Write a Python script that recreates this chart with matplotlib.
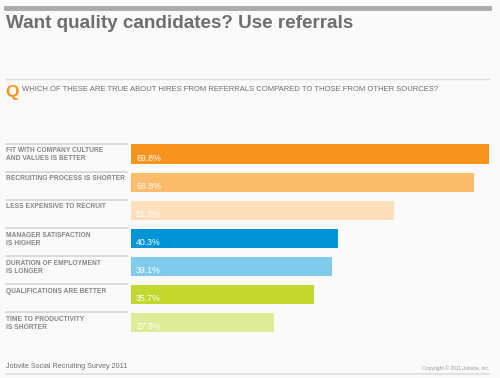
import matplotlib.pyplot as plt
from matplotlib.transforms import blended_transform_factory
from matplotlib import font_manager

categories = [
    "FIT WITH COMPANY CULTURE\nAND VALUES IS BETTER",
    "RECRUITING PROCESS IS SHORTER",
    "LESS EXPENSIVE TO RECRUIT",
    "MANAGER SATISFACTION\nIS HIGHER",
    "DURATION OF EMPLOYMENT\nIS LONGER",
    "QUALIFICATIONS ARE BETTER",
    "TIME TO PRODUCTIVITY\nIS SHORTER",
]
values = [69.8, 66.8, 51.2, 40.3, 39.1, 35.7, 27.9]
colors = ['#F7941D', '#FBBC6C', '#FDDFBB', '#0096D6', '#80CBEB', '#C2D82E', '#DEEC97']

W, H = 500, 378
bg = '#FAFAFA'
gray = '#6D6E71'
label_gray = '#858585'

names = {f.name for f in font_manager.fontManager.ttflist}
narrow = 'Liberation Sans Narrow' if 'Liberation Sans Narrow' in names else 'Liberation Sans'
lab_size = 5.6 if narrow != 'Liberation Sans' else 4.8

fig = plt.figure(figsize=(W / 100, H / 100), dpi=100, facecolor=bg)

def fx(px):
    return px / W

def fy(py):
    return 1 - py / H

# bar area: x 131..489 px, y 140..336.5 px
ax = fig.add_axes([fx(131), fy(336.5), fx(489 - 131), (336.5 - 140) / H])
ax.set_facecolor(bg)
ax.set_xlim(0, max(values))
ax.set_ylim(len(values) - 0.5, -0.5)
ax.axis('off')

bh = 0.68
ypos = list(range(len(values)))
ax.barh(ypos, values, height=bh, color=colors, edgecolor='none')

trans = blended_transform_factory(fig.transFigure, ax.transData)
for i, (cat, v) in enumerate(zip(categories, values)):
    ax.plot([fx(6), fx(127)], [i - bh / 2 - 0.03] * 2, color='#D4D4D4', lw=1.2,
            transform=trans, clip_on=False)
    ax.text(fx(6), i - bh / 2 + 0.1, cat, transform=trans, ha='left', va='top',
            fontsize=lab_size, color=label_gray, fontweight='bold',
            family=narrow, linespacing=1.2)
    ax.text(1.0, i + 0.16, f"{v}%", ha='left', va='center', fontsize=6.3,
            color='white', family='Liberation Sans')

# header
fig.add_artist(plt.Line2D([fx(6), fx(489)], [fy(8), fy(8)], color='#AAABAD', lw=3.5))
fig.text(fx(6), fy(24), "Want quality candidates? Use referrals", ha='left', va='center',
         fontsize=13.6, color=gray, fontweight='bold', family='Liberation Sans')
fig.add_artist(plt.Line2D([fx(6), fx(489)], [fy(79), fy(79)], color='#DCDCDC', lw=1))
fig.text(fx(5), fy(92), "Q", ha='left', va='center', fontsize=12.5, color='#F7941D',
         fontweight='bold', family='Liberation Sans')
fig.text(fx(22), fy(89.5), "WHICH OF THESE ARE TRUE ABOUT HIRES FROM REFERRALS COMPARED TO THOSE FROM OTHER SOURCES?",
         ha='left', va='center', fontsize=5.5, color=gray, family='Liberation Sans')

# footer
fig.text(fx(6), fy(367), "Jobvite Social Recruiting Survey 2011", ha='left', va='center',
         fontsize=5.2, color=gray, family='Liberation Sans')
fig.text(fx(489), fy(368), "Copyright \u00a9 2011 Jobvite, Inc.", ha='right', va='center',
         fontsize=3.6, color='#999999', family='Liberation Sans')
fig.add_artist(plt.Line2D([fx(6), fx(489)], [fy(373.5), fy(373.5)], color='#DCDCDC', lw=1.2))

fig.savefig('out.png', dpi=100, facecolor=bg)
